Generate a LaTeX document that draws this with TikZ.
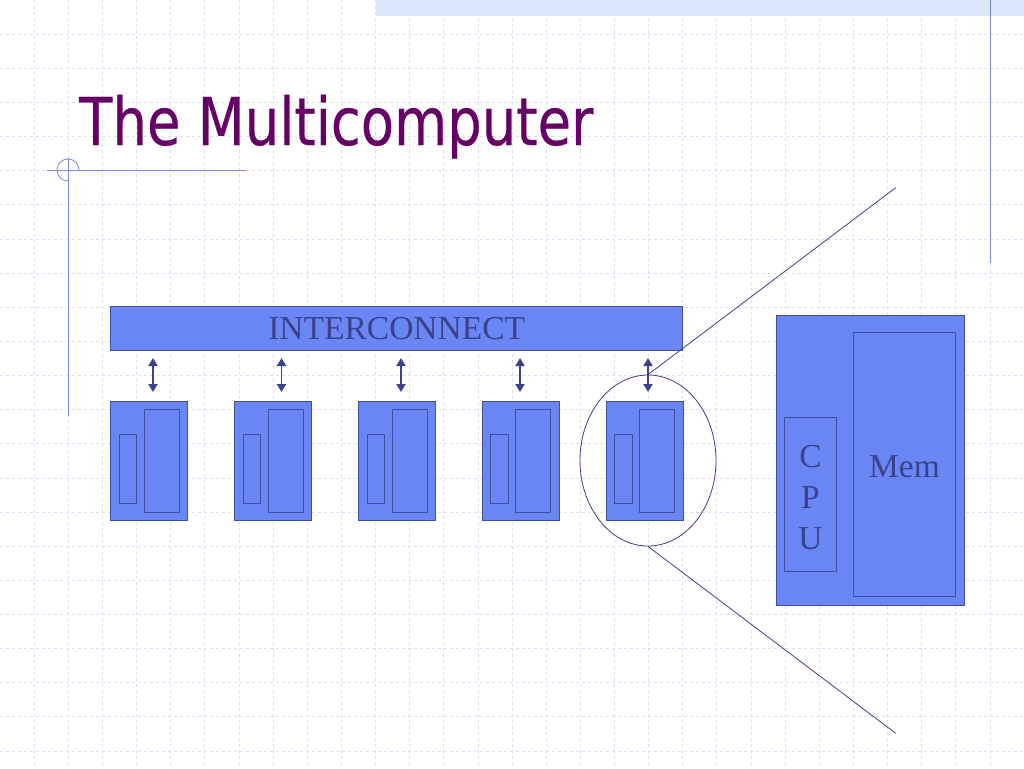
\documentclass[tikz,border=0pt]{standalone}
\usepackage{fontspec}
\setmainfont{Liberation Serif}
\newfontfamily\titlefont[FakeBold=0.4]{DejaVu Sans}
\usetikzlibrary{positioning,arrows.meta,shapes.geometric}
\definecolor{boxblue}{RGB}{106,134,244}
\definecolor{edgeblue}{RGB}{62,78,160}
\definecolor{inkblue}{RGB}{58,66,140}
\definecolor{gridline}{RGB}{218,224,244}
\definecolor{titlepurple}{RGB}{102,0,102}
\definecolor{rulerblue}{RGB}{118,138,228}
\definecolor{bandblue}{RGB}{220,230,250}
\tikzset{
    unit/.style={draw=edgeblue, fill=boxblue, line width=0.8pt, inner sep=0pt,
        minimum width=77pt, minimum height=119pt},
    part/.style={draw=edgeblue, line width=0.8pt, inner sep=0pt},
    link/.style={draw=inkblue, line width=1.8pt,
        {Triangle[length=8pt,width=9pt]}-{Triangle[length=8pt,width=9pt]}},
    zoomline/.style={draw=inkblue, line width=0.8pt},
    label/.style={text=inkblue, font=\fontsize{33.5}{41}\selectfont},
}
\begin{document}
\begin{tikzpicture}[x=1pt, y=-1pt]
                
                \useasboundingbox[fill=white] (0,0) rectangle (1024,768);
                % Grid
                \foreach \k in {1,...,29}
                    \draw[gridline, dashed, line width=0.7pt] ({\k*34.1333},0) -- ({\k*34.1333},768);
                \foreach \k in {1,...,22}
                    \draw[gridline, dashed, line width=0.7pt] (0,{\k*34.1333}) -- (1024,{\k*34.1333});
                % Band and rulers
                \fill[bandblue] (376,0) rectangle (1024,16);
                \draw[rulerblue, line width=0.8pt] (990,0) -- (990,263);
                \draw[rulerblue, line width=0.8pt] (46.7,170) -- (246,170);
                \draw[rulerblue, line width=0.8pt] (68,158) -- (68,416);
                \draw[rulerblue, line width=0.8pt] (79,170) arc[start angle=0, end angle=-270, radius=11];
                % Title
                \node[anchor=base west, inner sep=0pt, text=titlepurple,
                    font=\titlefont\fontsize{66}{70}\selectfont] (title) at (79,145)
                    {\scalebox{0.825}[1]{The Multicomputer}};
                
                % Interconnect
                \node[part, fill=boxblue, minimum width=572pt, minimum height=43.3pt, label] (bus)
                    at (396.7,328.3) {INTERCONNECT};
                % Computers
                \foreach \i/\ax in {1/153,2/281.5,3/401,4/520,5/648}{
                    \node[unit] (n\i) at ({149.2+123.8*(\i-1)},460.5) {};
                    \node[part, minimum width=17.4pt, minimum height=68.6pt,
                        above right=16.7pt and 8.6pt of n\i.south west] (c\i) {};
                    \node[part, minimum width=35pt, minimum height=103pt,
                        above right=8pt and 33.6pt of n\i.south west] (m\i) {};
                    \coordinate (t\i) at (\ax,358);
                    \coordinate (b\i) at (\ax,392);
                    \draw[link] (t\i) -- (b\i);
                }
                
                % Zoom
                \node[ellipse, zoomline, minimum width=136pt, minimum height=171pt] (lens) at (648,460.5) {};
                \coordinate (up) at (895.7,187.7);
                \coordinate (down) at (895.7,733.3);
                \draw[zoomline] (lens.north) -- (up);
                \draw[zoomline] (lens.south) -- (down);
                % Node inside
                \node[unit, minimum width=187.6pt, minimum height=290pt] (big) at (870.5,460) {};
                \node[part, minimum width=52.4pt, minimum height=153.3pt] (cpu) at (810.5,494.3) {};
                \node[label, align=center, inner sep=0pt] (cputext) at ([yshift=-3pt]cpu.center) {C\\P\\U};
                \node[part, minimum width=102.4pt, minimum height=264.4pt] (mem) at (904.5,464.5) {};
                \node[label, anchor=base, inner sep=0pt] (memtext) at (904.5,477.7) {Mem};
                
            \end{tikzpicture}
\end{document}
